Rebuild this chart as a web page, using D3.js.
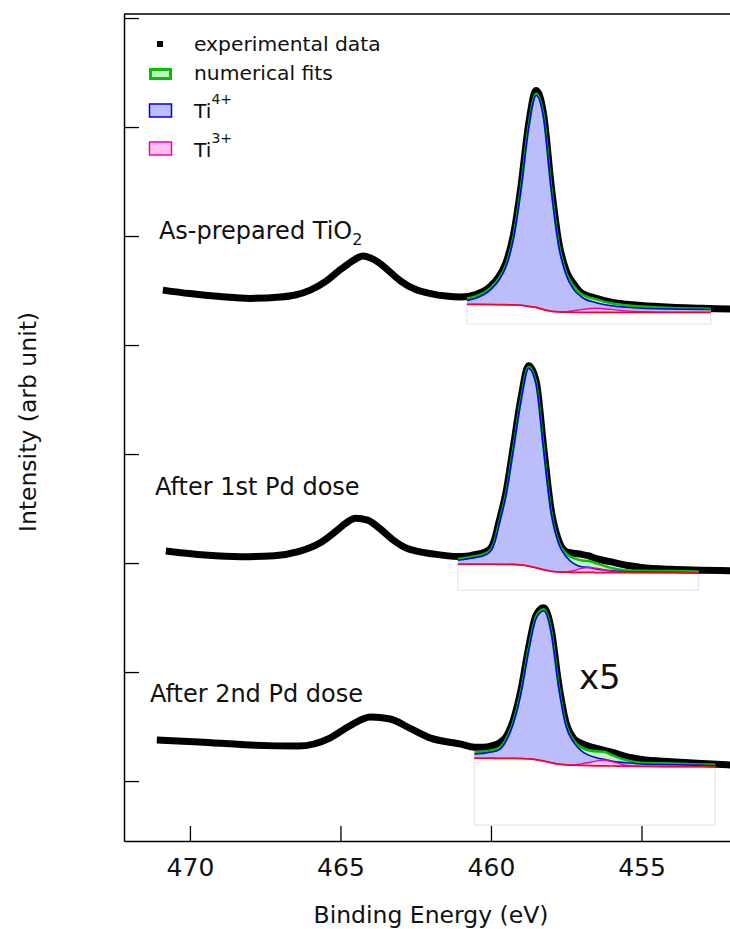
<!DOCTYPE html>
<html>
<head>
<meta charset="utf-8">
<script src="https://cdn.jsdelivr.net/npm/d3@7"></script>
<style>
body { margin: 0; background: #fff; }
svg text { font-family: "DejaVu Sans", sans-serif; fill: #111; }
</style>
</head>
<body>
<div id="chart"></div>
<script>
const x_ticks = [470, 465, 460, 455]
const y_ticks = [0, 100, 200, 300, 400, 500, 600, 700]

// As-prepared TiO2
const exp_top_ev = [470.9, 470.0, 469.0, 468.0, 467.0, 466.5, 466.0, 465.5, 465.0, 464.75, 464.5, 464.25, 464.0, 463.75, 463.5, 463.0, 462.5, 462.0, 461.5, 461.0, 460.5, 460.0, 459.75, 459.5, 459.25, 459.0, 458.75, 458.5, 458.25, 458.0, 457.75, 457.5, 457.25, 457.0, 456.5, 456.0, 455.5, 455.0, 454.0, 453.0, 452.0]
const exp_top_int = [450.4, 447.2, 444.5, 442.8, 444.0, 445.9, 450.4, 458.2, 469.3, 474.3, 478.9, 481.6, 479.8, 476.1, 470.6, 458.7, 450.9, 447.2, 444.9, 444.0, 446.3, 454.3, 462.3, 475.5, 501.5, 546.5, 602.5, 633.5, 611.5, 546.5, 494.5, 468.0, 456.0, 448.0, 442.9, 439.3, 437.4, 436.2, 434.7, 433.8, 432.9]
const fit_top_ev = [460.8, 460.5, 460.0, 459.75, 459.5, 459.25, 459.0, 458.75, 458.5, 458.25, 458.0, 457.75, 457.5, 457.25, 457.0, 456.5, 456.0, 455.5, 455.0, 454.0, 453.0, 452.7]
const fit_top_env = [442.6, 444.6, 452.6, 460.6, 473.6, 499.6, 544.6, 600.6, 630.6, 609.6, 544.6, 492.6, 466.0, 454.0, 446.8, 441.9, 438.3, 436.5, 435.2, 434.0, 433.4, 433.3]
const fit_top_ti4 = [441.0, 443.0, 451.0, 459.0, 472.0, 498.0, 543.0, 599.0, 629.0, 608.0, 543.0, 491.0, 464.0, 451.0, 444.3, 438.8, 436.0, 434.6, 433.7, 433.0, 432.7, 432.6]
const fit_top_ti3 = [437.3, 437.3, 437.2, 437.1, 437.0, 436.8, 436.5, 435.5, 434.5, 432.5, 431.0, 430.5, 430.6, 431.5, 432.5, 433.7, 432.7, 431.3, 430.5, 430.0, 430.0, 430.0]
const fit_top_bg = [437.3, 437.3, 437.2, 437.1, 437.0, 436.8, 436.5, 435.5, 434.5, 432.5, 431.0, 430.5, 430.2, 430.1, 430.0, 430.0, 430.0, 430.0, 430.0, 430.0, 430.0, 430.0]

// After 1st Pd dose
const exp_mid_ev = [470.8, 469.5, 468.3, 467.2, 466.4, 465.7, 465.1, 464.8, 464.5, 464.1, 463.7, 463.25, 462.8, 461.9, 461.1, 460.75, 460.5, 460.25, 460.0, 459.87, 459.75, 459.5, 459.25, 459.0, 458.75, 458.5, 458.25, 458.0, 457.75, 457.5, 457.25, 457.0, 456.75, 456.5, 456.0, 455.5, 455.0, 454.0, 453.0, 452.0]
const exp_mid_int = [211.0, 207.3, 205.8, 206.7, 210.4, 218.1, 230.3, 237.0, 241.0, 239.4, 231.8, 221.1, 213.5, 208.3, 206.0, 206.5, 208.0, 209.5, 214.0, 222.5, 236.0, 265.0, 308.0, 352.0, 381.0, 367.0, 306.5, 248.5, 220.5, 210.5, 209.0, 208.0, 206.5, 204.0, 201.0, 198.0, 196.0, 194.2, 193.5, 192.9]
const fit_mid_ev = [461.1, 460.75, 460.5, 460.25, 460.0, 459.87, 459.75, 459.5, 459.25, 459.0, 458.75, 458.5, 458.25, 458.0, 457.75, 457.5, 457.25, 457.0, 456.75, 456.5, 456.0, 455.5, 455.0, 454.0, 453.1]
const fit_mid_env = [203.7, 205.1, 206.4, 207.9, 212.5, 220.7, 234.2, 263.6, 306.4, 350.5, 379.8, 365.1, 304.9, 247.1, 218.9, 208.5, 204.5, 202.5, 201.8, 199.8, 195.5, 193.4, 192.9, 192.6, 192.2]
const fit_mid_ti4 = [202.5, 203.9, 205.2, 206.7, 211.3, 219.5, 233.0, 262.4, 305.2, 349.3, 378.6, 363.9, 303.7, 245.9, 217.7, 205.8, 199.4, 196.6, 196.0, 194.5, 192.9, 192.0, 191.7, 191.5, 191.1]
const fit_mid_ti3 = [198.9, 198.9, 198.9, 198.9, 198.9, 198.9, 198.8, 198.8, 198.7, 198.3, 197.2, 195.6, 193.9, 192.5, 191.9, 191.9, 193.0, 195.1, 195.9, 195.2, 192.5, 191.4, 191.2, 191.1, 191.0]
const fit_mid_bg = [198.9, 198.9, 198.9, 198.9, 198.9, 198.9, 198.8, 198.8, 198.7, 198.3, 197.2, 195.6, 193.9, 192.5, 191.9, 191.6, 191.5, 191.4, 191.4, 191.3, 191.3, 191.2, 191.2, 191.1, 191.0]

// After 2nd Pd dose
const exp_bot_ev = [471.1, 469.7, 468.0, 466.4, 465.35, 464.7, 464.0, 463.35, 462.7, 462.0, 461.0, 460.55, 460.25, 460.0, 459.75, 459.5, 459.25, 459.0, 458.75, 458.5, 458.25, 458.0, 457.75, 457.5, 457.25, 457.0, 456.5, 456.0, 455.5, 455.0, 454.0, 453.0, 452.0]
const exp_bot_int = [37.6, 35.8, 33.0, 32.1, 39.4, 50.5, 58.7, 56.9, 48.6, 39.4, 33.9, 31.0, 31.0, 32.0, 34.5, 40.5, 56.5, 84.0, 122.3, 152.3, 159.0, 139.4, 89.0, 52.8, 39.0, 34.5, 30.0, 26.5, 22.3, 19.8, 17.7, 16.0, 14.7]
const fit_bot_ev = [460.55, 460.25, 460.0, 459.75, 459.5, 459.25, 459.0, 458.75, 458.5, 458.25, 458.0, 457.75, 457.5, 457.25, 457.0, 456.5, 456.25, 456.0, 455.5, 455.0, 454.0, 453.0, 452.55]
const fit_bot_env = [26.3, 26.9, 28.1, 29.9, 38.2, 55.0, 82.5, 120.8, 150.8, 157.5, 137.9, 87.5, 51.3, 37.3, 30.8, 27.2, 26.9, 24.0, 19.1, 16.8, 16.0, 15.2, 14.8]
const fit_bot_ti4 = [24.8, 25.4, 26.6, 28.4, 36.7, 53.5, 81.0, 119.3, 149.3, 156.0, 136.4, 86.0, 49.8, 35.5, 27.8, 21.4, 20.0, 18.3, 16.8, 15.6, 15.0, 14.4, 14.0]
const fit_bot_ti3 = [20.9, 20.9, 20.9, 20.8, 20.8, 20.8, 20.7, 20.4, 19.6, 18.3, 16.8, 15.5, 14.9, 14.8, 15.8, 18.3, 19.3, 18.0, 14.4, 13.5, 13.3, 13.2, 13.1]
const fit_bot_bg = [20.9, 20.9, 20.9, 20.8, 20.8, 20.8, 20.7, 20.4, 19.6, 18.3, 16.8, 15.5, 14.9, 14.5, 14.3, 14.0, 13.9, 13.8, 13.6, 13.5, 13.3, 13.2, 13.1]

const fit_floor = [419.3, 175.2, -40.4]
const label_text = ['As-prepared TiO', 'After 1st Pd dose', 'After 2nd Pd dose']
const label_ev = [471.03, 471.16, 471.33]
const label_int = [497.2, 262.4, 72.7]

const colors = {
    exp: '#000',
    env: '#00c400',
    env_fill: 'rgb(196, 242, 196)',
    ti4: '#0000f0',
    ti4_fill: 'rgb(188, 190, 252)',
    ti3: '#f000b8',
    ti3_fill: 'rgb(255, 190, 236)',
    bg: '#ff0020',
    box: 'rgb(238, 222, 246)'
}

const W = 730, H = 929
const svg = d3.select('#chart').append('svg').attr('width', W).attr('height', H)

const x = d3.scaleLinear().domain([472.19, 452.06]).range([124, 730])
const y = d3.scaleLinear().domain([-55, 703.7]).range([841, 14])

const zip = (a, b) => a.map((v, i) => [v, b[i]])

const line = d3.line().x(d => x(d[0])).y(d => y(d[1])).curve(d3.curveMonotoneX)
const band = d3.area().x(d => x(d.ev)).y0(d => y(d.lo)).y1(d => y(d.hi)).curve(d3.curveMonotoneX)

const spectra = [
    {exp: zip(exp_top_ev, exp_top_int), ev: fit_top_ev, env: fit_top_env, ti4: fit_top_ti4, ti3: fit_top_ti3, bg: fit_top_bg},
    {exp: zip(exp_mid_ev, exp_mid_int), ev: fit_mid_ev, env: fit_mid_env, ti4: fit_mid_ti4, ti3: fit_mid_ti3, bg: fit_mid_bg},
    {exp: zip(exp_bot_ev, exp_bot_int), ev: fit_bot_ev, env: fit_bot_env, ti4: fit_bot_ti4, ti3: fit_bot_ti3, bg: fit_bot_bg}
]

const plot = svg.append('g')

spectra.forEach((s, i) => {
    const g = plot.append('g')
    const n = s.ev.length
    const box = [[s.ev[0], s.bg[0]], [s.ev[0], fit_floor[i]], [s.ev[n - 1], fit_floor[i]], [s.ev[n - 1], s.bg[n - 1]]]
    g.append('path').attr('d', d3.line().x(d => x(d[0])).y(d => y(d[1]))(box))
        .attr('fill', 'none').attr('stroke', colors.box).attr('stroke-width', 1.2)

    g.append('path').attr('d', line(s.exp))
        .attr('fill', 'none').attr('stroke', colors.exp).attr('stroke-width', 7)

    const rows = (top) => s.ev.map((ev, k) => ({ev: ev, lo: s.bg[k], hi: top[k]}))
    g.append('path').attr('d', band(rows(s.env))).attr('fill', colors.env_fill)
    g.append('path').attr('d', band(rows(s.ti4))).attr('fill', colors.ti4_fill)
    g.append('path').attr('d', band(rows(s.ti3))).attr('fill', colors.ti3_fill)

    g.append('path').attr('d', line(zip(s.ev, s.env)))
        .attr('fill', 'none').attr('stroke', colors.env).attr('stroke-width', 2.6)
    g.append('path').attr('d', line(zip(s.ev, s.ti4)))
        .attr('fill', 'none').attr('stroke', colors.ti4).attr('stroke-width', 1.6)
    g.append('path').attr('d', line(zip(s.ev, s.ti3)))
        .attr('fill', 'none').attr('stroke', colors.ti3).attr('stroke-width', 1.4)
    g.append('path').attr('d', line(zip(s.ev, s.bg)))
        .attr('fill', 'none').attr('stroke', colors.bg).attr('stroke-width', 1.7)

    const t = svg.append('text').attr('x', x(label_ev[i])).attr('y', y(label_int[i]))
        .attr('font-size', 24).text(label_text[i])
    if (i == 0) t.append('tspan').attr('dy', 6).attr('font-size', 16).text('2')
})

svg.append('text').attr('x', x(457.08)).attr('y', y(84.4)).attr('font-size', 34).text('x5')

// axes
const xAxis = svg.append('g').attr('transform', 'translate(0,841)')
    .call(d3.axisBottom(x).tickValues(x_ticks).tickSizeInner(-15).tickSizeOuter(0).tickPadding(17))
xAxis.selectAll('text').attr('font-size', 25).style('font-family', '"DejaVu Sans", sans-serif').attr('fill', '#111')

const yAxis = svg.append('g').attr('transform', 'translate(124,0)')
    .call(d3.axisLeft(y).tickValues(y_ticks).tickSizeInner(-15).tickSizeOuter(0).tickFormat(''))

svg.selectAll('.domain').attr('stroke-width', 1.5)
svg.selectAll('.tick line').attr('stroke-width', 1.3)

svg.append('line').attr('x1', 124).attr('x2', W).attr('y1', 14).attr('y2', 14)
    .attr('stroke', '#000').attr('stroke-width', 1.5)

svg.append('text').attr('x', 431).attr('y', 923).attr('text-anchor', 'middle')
    .attr('font-size', 23.5).text('Binding Energy (eV)')
svg.append('text').attr('transform', 'translate(36,422) rotate(-90)').attr('text-anchor', 'middle')
    .attr('font-size', 23.5).text('Intensity (arb unit)')

// legend
const lg = svg.append('g')
lg.append('rect').attr('x', 157).attr('y', 41).attr('width', 6).attr('height', 6).attr('fill', '#000')
lg.append('rect').attr('x', 150.5).attr('y', 69.5).attr('width', 20).attr('height', 9)
    .attr('fill', colors.env_fill).attr('stroke', colors.env).attr('stroke-width', 3)
lg.append('rect').attr('x', 149.5).attr('y', 104).attr('width', 22).attr('height', 13)
    .attr('fill', colors.ti4_fill).attr('stroke', colors.ti4).attr('stroke-width', 1.5)
lg.append('rect').attr('x', 149.5).attr('y', 142).attr('width', 22).attr('height', 13)
    .attr('fill', colors.ti3_fill).attr('stroke', colors.ti3).attr('stroke-width', 1.5)

lg.append('text').attr('x', 194).attr('y', 51).attr('font-size', 20.3).text('experimental data')
lg.append('text').attr('x', 194).attr('y', 80).attr('font-size', 20.3).text('numerical fits')
const t4 = lg.append('text').attr('x', 194).attr('y', 118).attr('font-size', 20.3).text('Ti')
t4.append('tspan').attr('dy', -14).attr('font-size', 14).text('4+')
const t3 = lg.append('text').attr('x', 194).attr('y', 157).attr('font-size', 20.3).text('Ti')
t3.append('tspan').attr('dy', -14).attr('font-size', 14).text('3+')
</script>
</body>
</html>
